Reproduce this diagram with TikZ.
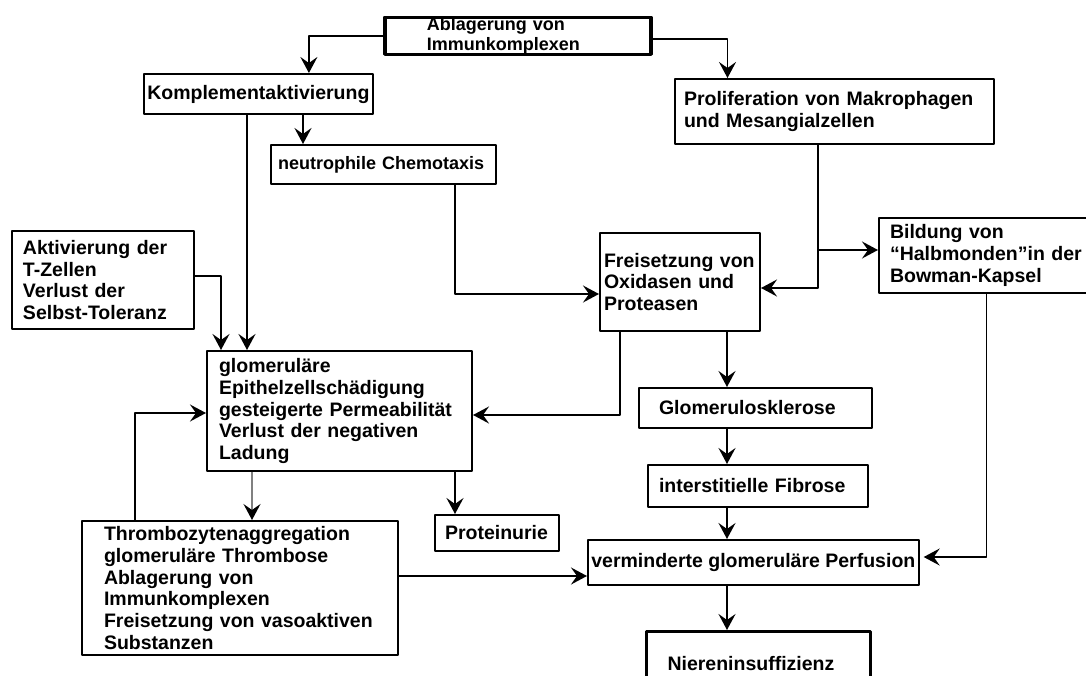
\documentclass[tikz,border=0pt]{standalone}
\usepackage{fontspec}
\setmainfont{Liberation Sans}
\usetikzlibrary{arrows.meta}
\hyphenpenalty=10000
\exhyphenpenalty=10000
\begin{document}
\begin{tikzpicture}[x=1pt,y=-1pt,>={Stealth[length=16pt,width=17pt,inset=6pt]},line join=round,
	every node/.style={font=\fontsize{19.5}{21.8}\selectfont\bfseries},
	box/.style={draw,line width=2pt,anchor=north west,align=left,inner ysep=0pt},
	small/.style={font=\fontsize{18}{20}\selectfont\bfseries},
	conn/.style={->,line width=1.8pt}]
	\useasboundingbox (0,0) rectangle (1086,675);
	% boxes
	\node[box,small,line width=3.5pt,text width=182pt,inner xsep=42pt,minimum height=37pt] (abl) at (383,15.5) {Ablagerung von\\Immunkomplexen};
	\node[box,minimum width=227pt,minimum height=40pt] (komp) at (143,73) {Komplementaktivierung};
	\node[box,small,text width=211pt,inner xsep=7pt,minimum height=39pt] (neutro) at (270,144) {neutrophile Chemotaxis};
	\node[box,text width=301pt,inner xsep=9pt,minimum height=65pt] (prolif) at (674,78) {Proliferation von Makrophagen\\und Mesangialzellen};
	\node[box,text width=160pt,inner xsep=11pt,minimum height=98pt] (aktiv) at (11,230) {Aktivierung der\\T-Zellen\\Verlust der\\Selbst-Toleranz};
	\node[box,text width=152pt,inner xsep=4pt,minimum height=98pt] (freis) at (599,232) {Freisetzung von\\Oxidasen und\\Proteasen};
	\node[box,text width=195pt,inner xsep=11pt,minimum height=75pt] (bild) at (878,217) {Bildung von\\“Halbmonden”in der\\Bowman-Kapsel};
	\node[box,text width=241pt,inner xsep=12pt,minimum height=120pt] (glom) at (206,350) {glomeruläre\\Epithelzellschädigung\\gesteigerte Permeabilität\\Verlust der negativen\\Ladung};
	\node[box,text width=272pt,inner xsep=22pt,minimum height=134pt] (throm) at (81,520) {Thrombozytenaggregation\\glomeruläre Thrombose\\Ablagerung von\\Immunkomplexen\\Freisetzung von vasoaktiven\\Substanzen};
	\node[box,text width=104pt,inner xsep=10pt,minimum height=36pt] (prot) at (434,514) {Proteinurie};
	\node[box,text width=193pt,inner xsep=20pt,minimum height=40pt] (glosk) at (638,387) {Glomerulosklerose};
	\node[box,text width=198pt,inner xsep=11pt,minimum height=42pt] (inter) at (647,464) {interstitielle Fibrose};
	\node[box,minimum width=326pt,minimum height=45pt] (verm) at (587,539) {verminderte glomeruläre Perfusion};
	\node[box,line width=3pt,text width=182pt,inner xsep=21pt,minimum height=64pt] (niere) at (645,630) {Niereninsuffizienz};
	% helper points
	\coordinate (ax) at ([xshift=47pt]freis.south);
	\coordinate (pv) at ([xshift=-16.5pt]prolif.south);
	\coordinate (bw) at ([yshift=5.5pt]bild.west);
	\coordinate (te) at ([yshift=12pt]throm.east);
	% connectors
	\draw[conn] (abl.west) -| ([xshift=50.5pt]komp.north);
	\draw[conn] ([yshift=-3pt]abl.east) -| ([xshift=-107pt]prolif.north);
	\draw[conn] ([xshift=160pt]komp.south west) -- ([xshift=33pt]neutro.north west);
	\draw[conn] ([xshift=104pt]komp.south west) -- ([xshift=41pt]glom.north west);
	\draw[conn] ([yshift=4pt]aktiv.east) -| ([xshift=15pt]glom.north west);
	\draw[conn] ([xshift=71.5pt]neutro.south) |- ([yshift=-12pt]freis.west);
	\draw[conn] (pv) |- ([yshift=-6pt]freis.east);
	\draw[conn] (bw -| pv) -- (bw);
	\draw[conn] ([xshift=21pt]freis.south west) |- ([yshift=-4pt]glom.east);
	\draw[conn] (freis.south -| ax) -- (glosk.north -| ax);
	\draw[conn] (glosk.south -| ax) -- (inter.north -| ax);
	\draw[conn] (inter.south -| ax) -- (verm.north -| ax);
	\draw[conn] (verm.south -| ax) -- (niere.north -| ax);
	\draw[conn] ([xshift=-1pt]bild.south) |- ([xshift=4pt,yshift=5.5pt]verm.east);
	\draw[line width=1.3pt,draw=gray,arrows={-Stealth[length=16pt,width=17pt,inset=6pt,black]}] ([xshift=46pt]glom.south west) -- ([xshift=171pt]throm.north west);
	\draw[conn] ([xshift=249pt]glom.south west) -- ([xshift=21pt]prot.north west);
	\draw[conn] ([xshift=54pt]throm.north west) |- ([yshift=-2pt]glom.west);
	\draw[conn] (te) -- (te -| verm.west);
\end{tikzpicture}
\end{document}
